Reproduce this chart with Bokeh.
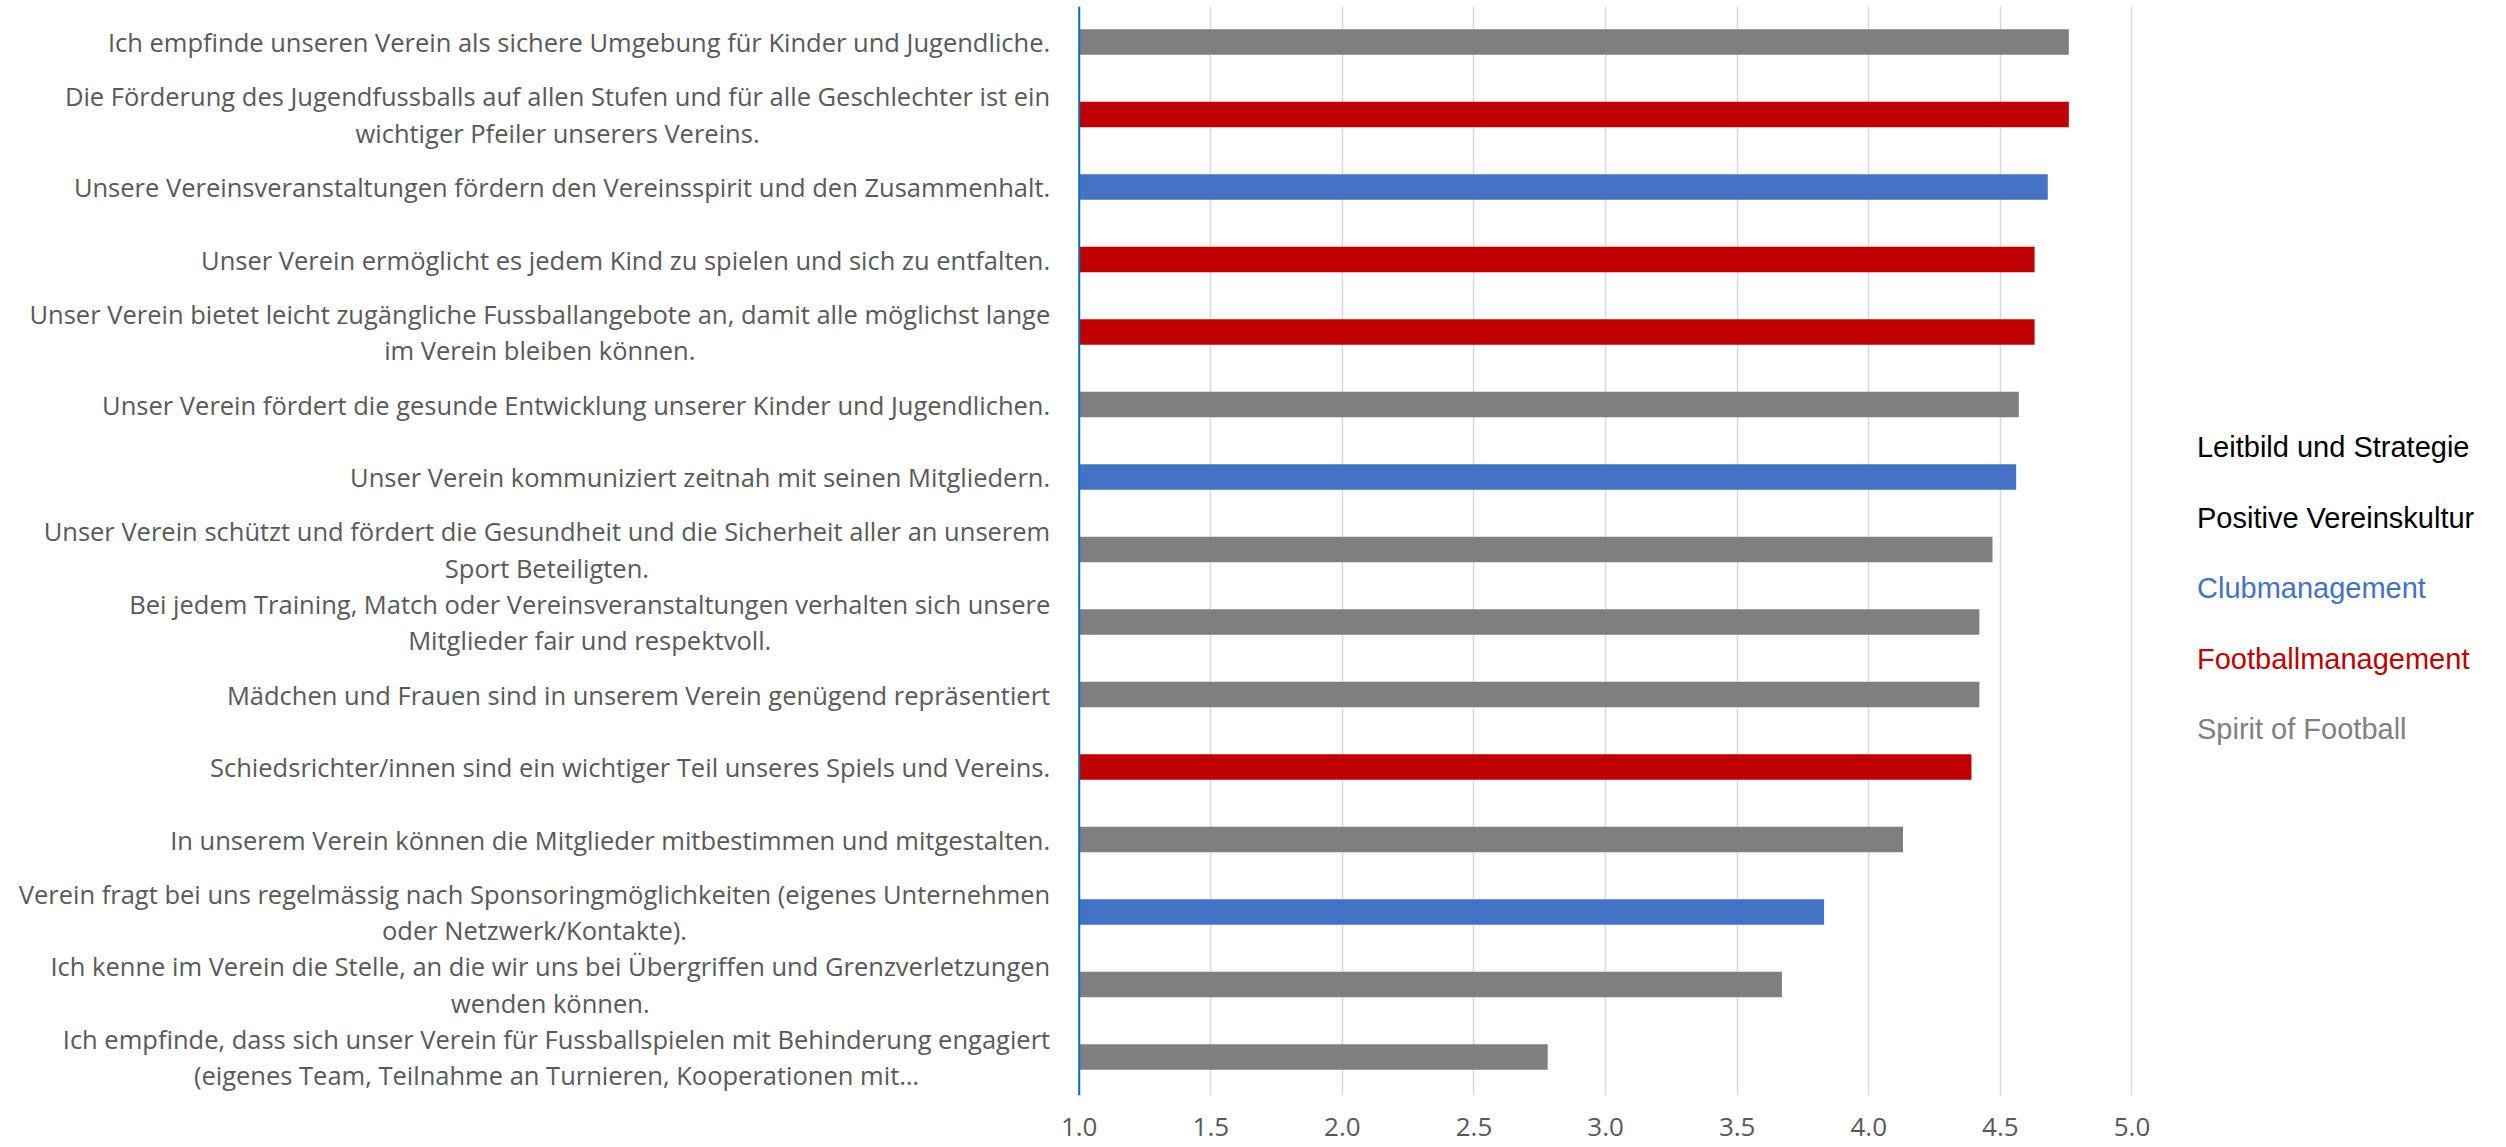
from bokeh.plotting import figure
from bokeh.models import ColumnDataSource, Range1d, FixedTicker, PrintfTickFormatter, Span
from bokeh.embed import file_html
from bokeh.resources import INLINE
from bokeh.core.properties import value

categories = [
    "Ich empfinde unseren Verein als sichere Umgebung für Kinder und Jugendliche.",
    "Die Förderung des Jugendfussballs auf allen Stufen und für alle Geschlechter ist ein\nwichtiger Pfeiler unserers Vereins.",
    "Unsere Vereinsveranstaltungen fördern den Vereinsspirit und den Zusammenhalt.",
    "Unser Verein ermöglicht es jedem Kind zu spielen und sich zu entfalten.",
    "Unser Verein bietet leicht zugängliche Fussballangebote an, damit alle möglichst lange\nim Verein bleiben können.",
    "Unser Verein fördert die gesunde Entwicklung unserer Kinder und Jugendlichen.",
    "Unser Verein kommuniziert zeitnah mit seinen Mitgliedern.",
    "Unser Verein schützt und fördert die Gesundheit und die Sicherheit aller an unserem\nSport Beteiligten.",
    "Bei jedem Training, Match oder Vereinsveranstaltungen verhalten sich unsere\nMitglieder fair und respektvoll.",
    "Mädchen und Frauen sind in unserem Verein genügend repräsentiert",
    "Schiedsrichter/innen sind ein wichtiger Teil unseres Spiels und Vereins.",
    "In unserem Verein können die Mitglieder mitbestimmen und mitgestalten.",
    "Verein fragt bei uns regelmässig nach Sponsoringmöglichkeiten (eigenes Unternehmen\noder Netzwerk/Kontakte).",
    "Ich kenne im Verein die Stelle, an die wir uns bei Übergriffen und Grenzverletzungen\nwenden können.",
    "Ich empfinde, dass sich unser Verein für Fussballspielen mit Behinderung engagiert\n(eigenes Team, Teilnahme an Turnieren, Kooperationen mit…",
]
values = [4.76, 4.76, 4.68, 4.63, 4.63, 4.57, 4.56, 4.47, 4.42, 4.42, 4.39, 4.13, 3.83, 3.67, 2.78]
groups = [
    "Spirit of Football", "Footballmanagement", "Clubmanagement", "Footballmanagement",
    "Footballmanagement", "Spirit of Football", "Clubmanagement", "Spirit of Football",
    "Spirit of Football", "Spirit of Football", "Footballmanagement", "Spirit of Football",
    "Clubmanagement", "Spirit of Football", "Spirit of Football",
]
legend_names = ["Leitbild und Strategie", "Positive Vereinskultur", "Clubmanagement",
                "Footballmanagement", "Spirit of Football"]
legend_colors = ["#000000", "#000000", "#4472C4", "#C00000", "#808080"]
bar_colors = {"Clubmanagement": "#4472C4", "Footballmanagement": "#C00000",
              "Spirit of Football": "#7F7F7F"}
x_ticks = [1.0, 1.5, 2.0, 2.5, 3.0, 3.5, 4.0, 4.5, 5.0]

W, H = 2490, 1147
n = len(categories)
axis_start = x_ticks[0]

src = ColumnDataSource(dict(
    y=list(range(n)),
    label=categories,
    value=values,
    color=[bar_colors[g] for g in groups],
    lx=[axis_start] * n,
))

p = figure(width=W, height=H, output_backend="svg", toolbar_location=None,
           x_range=Range1d(-3.0984, 6.3621), y_range=Range1d(14.531, -0.4897),
           y_axis_location=None, min_border_left=0, min_border_right=0,
           min_border_top=6, min_border_bottom=52)
p.outline_line_color = None
p.background_fill_color = "white"

p.hbar(y="y", left=axis_start, right="value", height=0.355, color="color",
       line_color=None, source=src)

p.text(x="lx", y="y", text="label", source=src, x_offset=-29,
       anchor="center_right", text_align="center", text_baseline="middle",
       text_font=value("Open Sans"), text_font_size="25.5px", text_color="#595959",
       text_line_height=1.065)

leg = ColumnDataSource(dict(
    x=[x_ticks[-1]] * len(legend_names),
    y=[5.593 + 0.972 * k for k in range(len(legend_names))],
    text=legend_names,
    color=legend_colors,
))
p.text(x="x", y="y", text="text", color="color", source=leg, x_offset=65,
       text_align="left", text_baseline="middle",
       text_font=value("Liberation Sans"), text_font_size="29px")

span = Span(location=axis_start, dimension="height", line_color="#0070C0", line_width=2)
p.add_layout(span)

ax = p.xaxis[0]
ax.ticker = FixedTicker(ticks=x_ticks)
ax.formatter = PrintfTickFormatter(format="%.1f")
ax.axis_line_color = None
ax.major_tick_line_color = None
ax.minor_tick_line_color = None
ax.major_label_text_font = "Open Sans"
ax.major_label_text_font_size = "26px"
ax.major_label_text_color = "#595959"
ax.major_label_standoff = 16

p.xgrid.ticker = FixedTicker(ticks=x_ticks)
p.xgrid.grid_line_color = "#D9D9D9"
p.xgrid.grid_line_width = 1.5
p.ygrid.visible = False

open("out.html", "w").write(file_html(p, INLINE))
